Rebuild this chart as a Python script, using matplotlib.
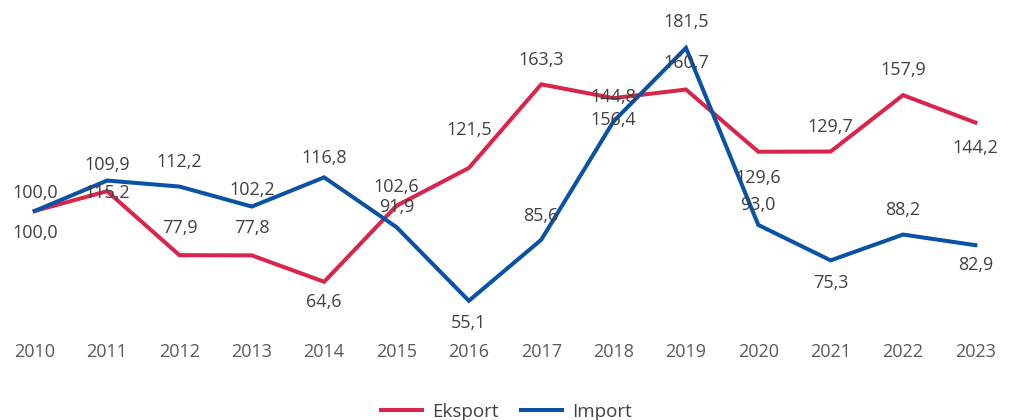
import matplotlib
matplotlib.use("Agg")
import matplotlib.pyplot as plt

plt.rcParams["font.family"] = ["Open Sans", "DejaVu Sans"]

years = ["2010", "2011", "2012", "2013", "2014", "2015", "2016",
         "2017", "2018", "2019", "2020", "2021", "2022", "2023"]
eksport = [100.0, 109.9, 77.9, 77.8, 64.6, 102.6, 121.5,
           163.3, 156.4, 160.7, 129.6, 129.7, 157.9, 144.2]
impor = [100.0, 115.2, 112.2, 102.2, 116.8, 91.9, 55.1,
         85.6, 144.8, 181.5, 93.0, 75.3, 88.2, 82.9]

# label offsets in pixels (positive = up)
eks_dy = [-22, 26, 27, 27, -20, 19, 38, 24, -22, 27, -26, 25, 25, -25]
imp_dy = [18, -12, 25, 17, 19, 20, -22, 24, 24, 26, 20, -23, 25, -20]

red = "#D9254A"
blue = "#0A52A5"

fig = plt.figure(figsize=(10.13, 4.2), dpi=100)
ax = fig.add_axes([0.0, 0.2024, 1.0, 0.774])

x = list(range(len(years)))
ax.plot(x, eksport, color=red, lw=2.9, label="Eksport", solid_joinstyle="miter")
ax.plot(x, impor, color=blue, lw=2.9, label="Import", solid_joinstyle="miter")


def fmt(v):
    return f"{v:.1f}".replace(".", ",")


for xi, v, d in zip(x, eksport, eks_dy):
    ax.annotate(fmt(v), (xi, v), xytext=(0, d), textcoords="offset pixels",
                ha="center", va="center", fontsize=13, color="#404040")
for xi, v, d in zip(x, impor, imp_dy):
    ax.annotate(fmt(v), (xi, v), xytext=(0, d), textcoords="offset pixels",
                ha="center", va="center", fontsize=13, color="#404040")

ax.set_xlim(-0.48, 13.52)
ax.set_ylim(38, 200.5)
ax.set_xticks(x)
ax.set_xticklabels(years)
ax.tick_params(axis="x", length=0, pad=6, labelsize=13, labelcolor="#595959")
ax.set_yticks([])
for s in ax.spines.values():
    s.set_visible(False)

fig.legend(loc="center", bbox_to_anchor=(0.5, 0.019), ncol=2, frameon=False,
           fontsize=13.5, handlelength=2.2, columnspacing=1.15, handletextpad=0.55,
           labelcolor="#404040", borderpad=0)

fig.savefig("out.png", dpi=100)
